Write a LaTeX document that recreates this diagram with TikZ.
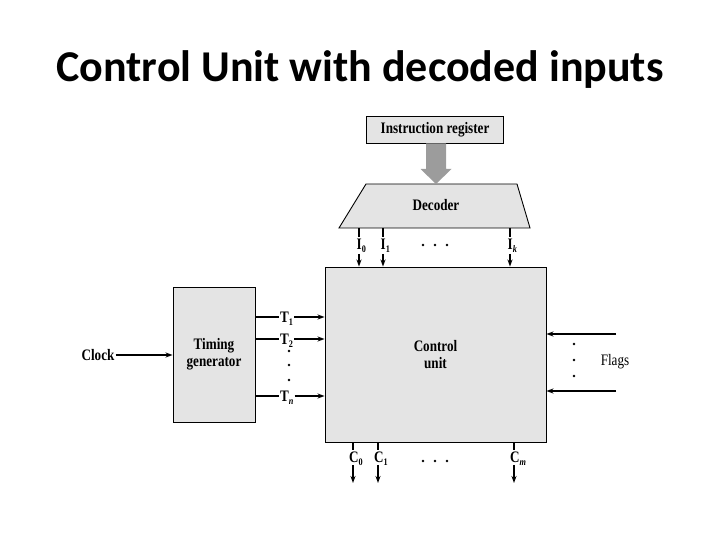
\documentclass[tikz,border=0pt]{standalone}
\usepackage{fontspec}
\setmainfont{Liberation Serif}
\newfontfamily\titlefont{Carlito}
\newfontfamily\figfont[FakeStretch=0.82]{Liberation Serif}
\usetikzlibrary{arrows.meta}
\definecolor{boxgray}{HTML}{E4E4E4}
\definecolor{arrgray}{HTML}{9C9C9C}
\newcommand\sbx[1]{\raisebox{-0.4ex}{\fontsize{10}{11}\selectfont #1}}
\begin{document}
\begin{tikzpicture}[x=1pt,y=-1pt,
  box/.style={draw=black, line width=0.9pt, fill=boxgray},
  lbl/.style={font=\figfont\bfseries\fontsize{16}{17}\selectfont, inner sep=1pt, align=center},
  sig/.style={line width=1.5pt},
  sigarr/.style={line width=1.5pt, -{Stealth[length=7pt,width=5pt]}},
  dot/.style={circle, fill=black, inner sep=0pt, minimum size=2.6pt},
]
\useasboundingbox (0,0) rectangle (720,540);
\node[font=\titlefont\bfseries\fontsize{44}{48}\selectfont, anchor=base, inner sep=0pt] (title) at (360,82) {Control Unit with decoded inputs};

% instruction register
\node[box, minimum width=137pt, minimum height=27pt, inner sep=0pt, lbl] (ir) at (435,129.5) {Instruction register};

% decoder
\draw[box] (339,228) -- (366,184) -- (517,184) -- (530,228) -- cycle;
\node[lbl] (dec) at (436,205) {Decoder};
\coordinate (decT) at (436,184);
\coordinate (decB) at (436,228);

% big gray arrow
\fill[arrgray] ([xshift=-10pt]ir.south -| decT) -- ([xshift=10pt]ir.south -| decT) -- ([xshift=10pt,yshift=15pt]decT) -- ([xshift=15.5pt,yshift=15pt]decT) -- (decT) -- ([xshift=-15.5pt,yshift=15pt]decT) -- ([xshift=-10pt,yshift=15pt]decT) -- cycle;

% control unit
\node[box, minimum width=221pt, minimum height=175pt, inner sep=0pt, lbl] (cu) at (435.5,354.5) {Control\\unit};

% timing generator
\node[box, minimum width=82pt, minimum height=135pt, inner sep=0pt, lbl] (tg) at (214,354.5) {Timing\\generator};

% clock
\node[lbl] (clk) at (98,355) {Clock};
\draw[sigarr] (clk.east) -- (tg.west |- clk.east);

% I inputs
\coordinate (xI0) at (359,246);
\coordinate (xI1) at (383,246);
\coordinate (xIk) at (510,246);
\node[lbl, anchor=west, xshift=-3.5pt] (I0) at (xI0) {I\sbx{0}};
\node[lbl, anchor=west, xshift=-3.5pt] (I1) at (xI1) {I\sbx{1}};
\node[lbl, anchor=west, xshift=-3.5pt] (Ik) at (xIk) {I\sbx{\textit{k}}};
\foreach \n in {I0,I1,Ik}{
  \draw[sig] (x\n |- decB) -- ([yshift=1pt]x\n |- \n.north);
  \draw[sigarr] (x\n |- \n.south) -- (x\n |- cu.north);
}
\node[dot] (id1) at (423,245) {};
\node[dot] (id2) at (435,245) {};
\node[dot] (id3) at (447,245) {};

% T outputs
\coordinate (yT1) at (255,317);
\coordinate (yT2) at (255,339);
\coordinate (yTn) at (255,396);
\node[lbl, anchor=base west] (T1) at (279,322.5) {T\sbx{1}};
\node[lbl, anchor=base west] (T2) at (279,344.5) {T\sbx{2}};
\node[lbl, anchor=base west] (Tn) at (279,401.5) {T\sbx{\textit{n}}};
\foreach \n in {T1,T2,Tn}{
  \draw[sig] (tg.east |- y\n) -- (\n.west |- y\n);
  \draw[sigarr] (\n.east |- y\n) -- (cu.west |- y\n);
}
\node[dot] (td1) at (289,351) {};
\node[dot] (td2) at (289,365) {};
\node[dot] (td3) at (289,380) {};

% flags
\coordinate (f1) at (616,334);
\coordinate (f2) at (616,391);
\draw[sigarr] (f1) -- (f1 -| cu.east);
\draw[sigarr] (f2) -- (f2 -| cu.east);
\node[lbl, font=\figfont\fontsize{16}{17}\selectfont] (flags) at (615,362) {Flags};
\node[dot] (fd1) at (574,344) {};
\node[dot] (fd2) at (574,360) {};
\node[dot] (fd3) at (574,376) {};

% C outputs
\coordinate (xC0) at (353,459);
\coordinate (xC1) at (378,459);
\coordinate (xCm) at (514,459);
\coordinate (cend) at (435,483);
\node[lbl, anchor=west, xshift=-5pt] (C0) at (xC0) {C\sbx{0}};
\node[lbl, anchor=west, xshift=-5pt] (C1) at (xC1) {C\sbx{1}};
\node[lbl, anchor=west, xshift=-5pt] (Cm) at (xCm) {C\sbx{\textit{m}}};
\foreach \n in {C0,C1,Cm}{
  \draw[sig] (x\n |- cu.south) -- ([yshift=1pt]x\n |- \n.north);
  \draw[sigarr] ([yshift=2pt]x\n |- \n.south) -- (x\n |- cend);
}
\node[dot] (cd1) at (423,461) {};
\node[dot] (cd2) at (435,461) {};
\node[dot] (cd3) at (447,461) {};
\end{tikzpicture}
\end{document}
